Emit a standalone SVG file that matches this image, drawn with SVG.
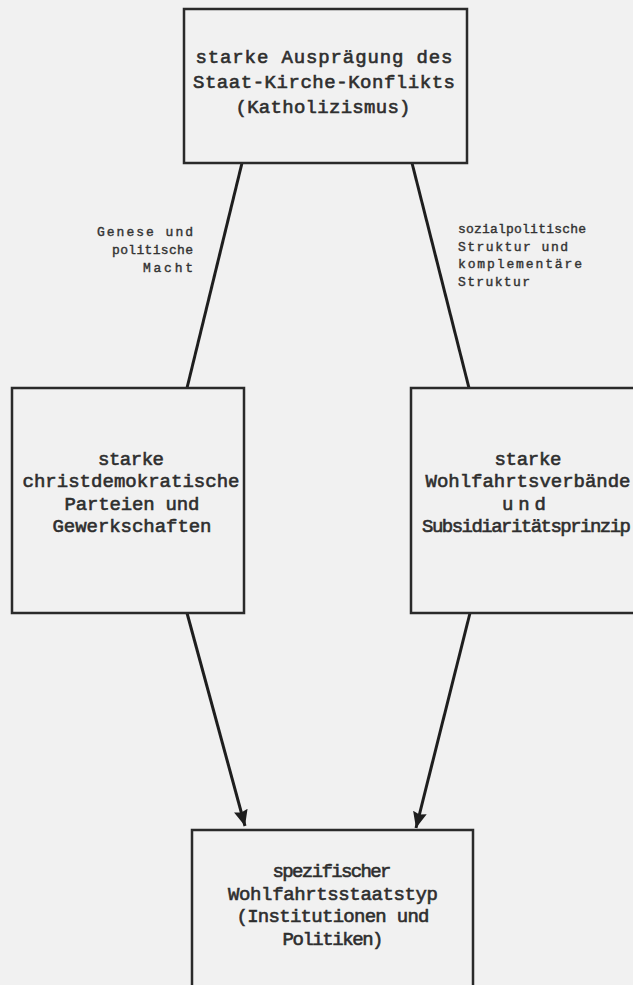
<svg xmlns="http://www.w3.org/2000/svg" width="633" height="985" viewBox="0 0 633 985">
<style>
.box{fill:#f1f1f1;stroke:#2a2a2a;stroke-width:2.5}
.t{font-family:"Liberation Mono","Courier New",monospace;font-size:19px;fill:#2e2e2e;stroke:#2e2e2e;stroke-width:0.6;text-anchor:middle}
.lbl{font-family:"Liberation Mono","Courier New",monospace;font-size:13px;fill:#333;stroke:#333;stroke-width:0.4}
.edge{stroke:#1e1e1e;stroke-width:3;fill:none}
</style>
<defs>
<marker id="ah" markerUnits="userSpaceOnUse" markerWidth="18" markerHeight="18" viewBox="0 0 18 18" refX="16" refY="9" orient="auto">
<path d="M0,2 L16,9 L0,16 L2,9 Z" fill="#1e1e1e"/>
</marker>
</defs>
<rect width="633" height="985" fill="#f1f1f1"/>
<g id="connectors">
<line class="edge" x1="242" y1="163" x2="187" y2="388"/>
<line class="edge" x1="412" y1="163" x2="469" y2="388"/>
<line class="edge" x1="187" y1="613" x2="245" y2="826" marker-end="url(#ah)"/>
<line class="edge" x1="470" y1="613" x2="416" y2="828" marker-end="url(#ah)"/>
<g id="label-left" class="lbl">
<text x="193" y="236" text-anchor="end" textLength="96" lengthAdjust="spacing">Genese und</text>
<text x="193" y="254" text-anchor="end" textLength="81" lengthAdjust="spacing">politische</text>
<text x="193" y="272" text-anchor="end" textLength="50" lengthAdjust="spacing">Macht</text>
</g>
<g id="label-right" class="lbl">
<text x="458" y="233" textLength="128" lengthAdjust="spacing">sozialpolitische</text>
<text x="458" y="251" textLength="110" lengthAdjust="spacing">Struktur und</text>
<text x="458" y="268" textLength="124" lengthAdjust="spacing">komplementäre</text>
<text x="458" y="286" textLength="72" lengthAdjust="spacing">Struktur</text>
</g>
</g>
<g id="n-top">
<rect class="box" x="184" y="9" width="283" height="154"/>
<text class="t" x="324" y="63" textLength="257" lengthAdjust="spacing">starke Ausprägung des</text>
<text class="t" x="324" y="88" textLength="262" lengthAdjust="spacing">Staat-Kirche-Konflikts</text>
<text class="t" x="323" y="113" textLength="175" lengthAdjust="spacing">(Katholizismus)</text>
</g>
<g id="n-left">
<rect class="box" x="12" y="388" width="232" height="225"/>
<text class="t" x="131" y="465" textLength="66" lengthAdjust="spacing">starke</text>
<text class="t" x="131" y="487" textLength="217" lengthAdjust="spacing">christdemokratische</text>
<text class="t" x="132" y="510" textLength="135" lengthAdjust="spacing">Parteien und</text>
<text class="t" x="132" y="532" textLength="159" lengthAdjust="spacing">Gewerkschaften</text>
</g>
<g id="n-right">
<rect class="box" x="411" y="388" width="232" height="225"/>
<text class="t" x="528" y="465" textLength="67" lengthAdjust="spacing">starke</text>
<text class="t" x="528" y="487" textLength="205" lengthAdjust="spacing">Wohlfahrtsverbände</text>
<text class="t" x="524" y="510" textLength="44" lengthAdjust="spacing">und</text>
<text class="t" x="422" y="532" style="text-anchor:start" textLength="209" lengthAdjust="spacing">Subsidiaritätsprinzip</text>
</g>
<g id="n-bottom">
<rect class="box" x="192" y="830" width="281" height="165"/>
<text class="t" x="332" y="877" textLength="119" lengthAdjust="spacing">spezifischer</text>
<text class="t" x="333" y="900" textLength="210" lengthAdjust="spacing">Wohlfahrtsstaatstyp</text>
<text class="t" x="333" y="922" textLength="193" lengthAdjust="spacing">(Institutionen und</text>
<text class="t" x="333" y="945" textLength="101" lengthAdjust="spacing">Politiken)</text>
</g>
</svg>
